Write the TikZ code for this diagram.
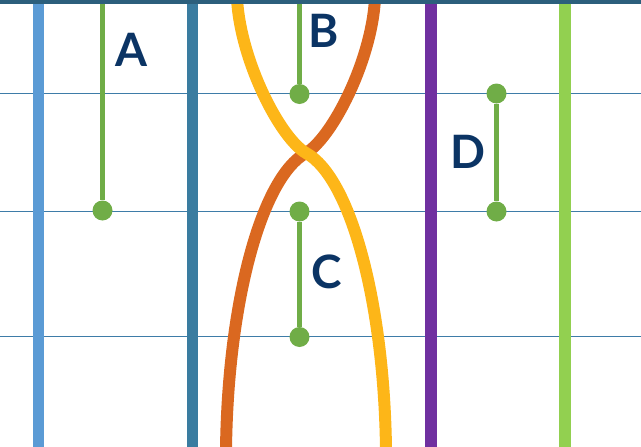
\documentclass[tikz,border=0pt]{standalone}
\usepackage{fontspec}
\setmainfont{Lato}
\definecolor{topbar}{HTML}{2C5F7C}
\definecolor{lblue}{HTML}{5B9BD5}
\definecolor{teal}{HTML}{3A7CA0}
\definecolor{purp}{HTML}{7030A0}
\definecolor{lgreen}{HTML}{92D050}
\definecolor{dgreen}{HTML}{70AD47}
\definecolor{orng}{HTML}{DA6820}
\definecolor{yelw}{HTML}{FDB618}
\definecolor{thin}{HTML}{3E7CA8}
\definecolor{navy}{HTML}{0B3464}
\tikzset{
  hline/.style={draw=thin, line width=1.2pt},
  vbar/.style={line width=11.5pt},
  gline/.style={draw=dgreen, line width=5.5pt},
  gdot/.style={circle, fill=dgreen, inner sep=0pt, minimum size=20pt},
  lbl/.style={text=navy, inner sep=0pt, font=\fontsize{46}{46}\selectfont\bfseries},
  strand/.style={line width=12pt}
}
\begin{document}
\begin{tikzpicture}[x=1pt,y=-1pt]
\useasboundingbox (0,0) rectangle (641,447);
% horizontal thin lines
\draw[hline] (0,93.5) -- (641,93.5);
\draw[hline] (0,211.5) -- (641,211.5);
\draw[hline] (0,336.5) -- (641,336.5);
% vertical bars
\draw[vbar, lblue] (38.5,0) -- (38.5,447);
\draw[vbar, teal] (192.5,0) -- (192.5,447);
\draw[vbar, purp] (431,0) -- (431,447);
\draw[vbar, lgreen] (565,0) -- (565,447);
% strands
\draw[strand, orng] (375,-2) .. controls (372,60) and (332,138) .. (306,153)
   .. controls (262,177) and (228,300) .. (226,449);
\draw[strand, yelw] (237,-2) .. controls (240,60) and (280,138) .. (306,153)
   .. controls (350,177) and (384,300) .. (386,449);
% green markers
\coordinate (a0) at (102.5,0);
\node[gdot] (a1) at (102.5,210.5) {};
\draw[gline] (a0) -- (a1);
\coordinate (b0) at (299.5,0);
\node[gdot] (b1) at (299.5,94) {};
\draw[gline] (b0) -- (b1);
\node[gdot] (c0) at (299.5,211.5) {};
\node[gdot] (c1) at (299.5,337) {};
\draw[gline] (c0) -- (c1);
\node[gdot] (d0) at (496.5,93.5) {};
\node[gdot] (d1) at (496.5,211.5) {};
\draw[gline] (d0) -- (d1);
% labels
\node[lbl] (la) at (131.5,49.5) {A};
\node[lbl] (lb) at (324,31) {B};
\node[lbl] (lc) at (327,271.5) {C};
\node[lbl] (ld) at (468,151.5) {D};
% top bar
\fill[topbar] (0,0) rectangle (641,3.5);
\end{tikzpicture}
\end{document}
